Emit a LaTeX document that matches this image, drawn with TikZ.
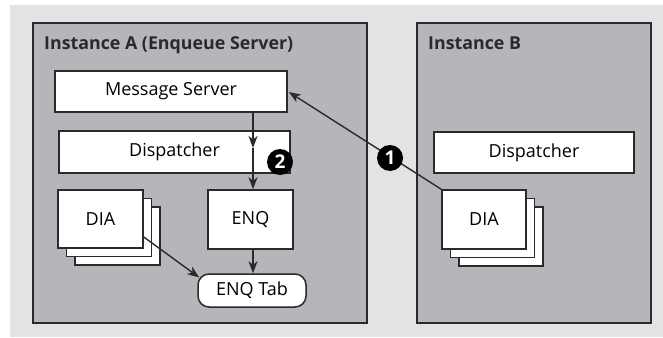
\documentclass[tikz,border=0pt]{standalone}
\usepackage{fontspec}
\setmainfont{Open Sans}
\usetikzlibrary{arrows.meta,calc}
\definecolor{bglight}{HTML}{E2E3E5}
\definecolor{panel}{HTML}{B5B6B9}
\definecolor{edge}{HTML}{2A2A2A}
\tikzset{
  panelbox/.style={draw=edge, fill=panel, line width=1.8pt},
  wbox/.style={draw=edge, fill=white, line width=1.5pt, inner sep=0pt, font=\fontsize{18}{21}\selectfont},
  conn/.style={draw=edge, line width=1.4pt, -{Stealth[length=12pt,width=9pt,inset=3.5pt]}},
  badge/.style={circle, fill=black, text=white, inner sep=0pt, minimum size=26pt, font=\bfseries\fontsize{19}{19}\selectfont},
  title/.style={anchor=base west, inner sep=0pt, font=\bfseries\fontsize{17.8}{20}\selectfont, text=edge}
}
\begin{document}
\begin{tikzpicture}[x=1pt,y=-1pt]
\useasboundingbox (0,0) rectangle (663,337);
\fill[bglight] (10,5) rectangle (663,337);
% panels
\draw[panelbox] (33,23) rectangle (367,323);
\draw[panelbox] (417,23) rectangle (651,323);
\node[title] (tA) at (44,49.5) {Instance A (Enqueue Server)};
\node[title] (tB) at (428,49.5) {Instance B};
% instance A
\node[wbox, minimum width=232pt, minimum height=41pt] (ms) at (171,91.5) {Message Server};
\node[wbox, minimum width=231pt, minimum height=42pt] (dispA) at (174.5,152) {Dispatcher};
\node[wbox, minimum width=85pt, minimum height=58pt] (diaA3) at (117.5,236) {};
\node[wbox, minimum width=85pt, minimum height=58pt] (diaA2) at (109,227.5) {};
\node[wbox, minimum width=85pt, minimum height=58pt] (diaA) at (100.5,219) {DIA};
\node[wbox, minimum width=85pt, minimum height=59pt] (enq) at (250.5,219.5) {ENQ};
\node[wbox, rounded corners=11pt, minimum width=108pt, minimum height=33pt] (tab) at (252,290.5) {ENQ Tab};
% instance B
\node[wbox, minimum width=200pt, minimum height=41pt] (dispB) at (534,152.5) {Dispatcher};
\node[wbox, minimum width=84pt, minimum height=59pt] (diaB3) at (501,236.5) {};
\node[wbox, minimum width=84pt, minimum height=59pt] (diaB2) at (492.5,228) {};
\node[wbox, minimum width=84pt, minimum height=59pt] (diaB) at (484,219.5) {DIA};
% connectors
\coordinate (mid) at (253,148);
\draw[conn] (ms.south -| mid) -- (mid);
\draw[conn] (mid) -- (enq.north -| mid);
\draw[conn] (enq.south -| mid) -- (tab.north -| mid);
\draw[conn] ($(diaA.east)+(0,18)$) -- ($(tab.west)+(2,-13)$);
\draw[conn] (diaB.north west) -- ($(ms.east)+(1,0.5)$);
% badges
\node[badge] (b1) at (390,158) {1};
\node[badge] (b2) at (280,162) {2};
\end{tikzpicture}
\end{document}
